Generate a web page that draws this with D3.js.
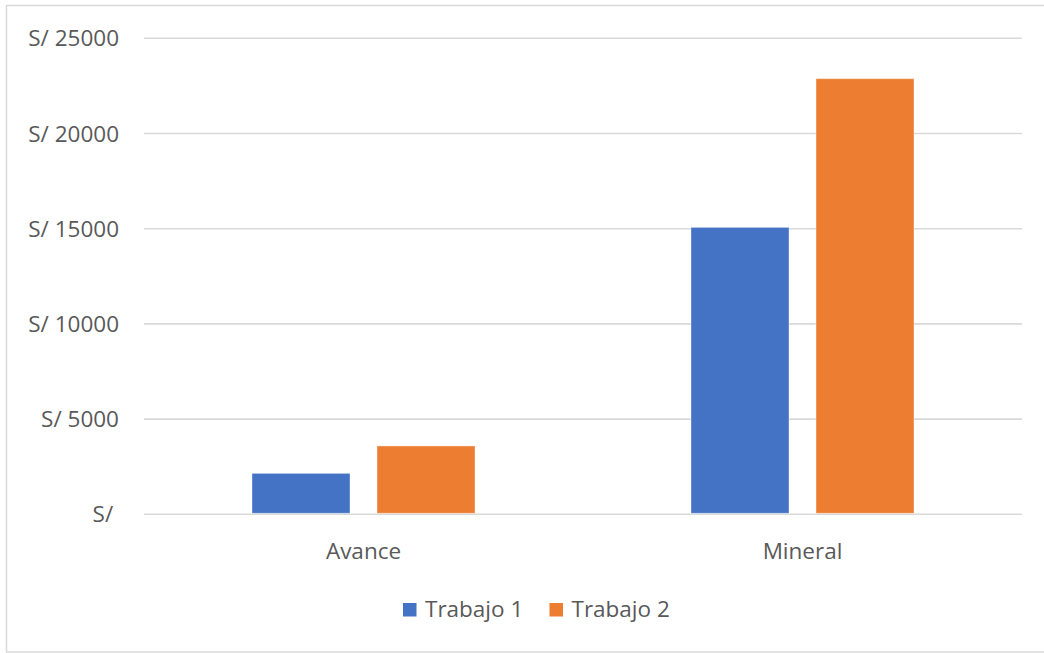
<!DOCTYPE html>
<html>
<head>
<meta charset="utf-8">
<script src="https://cdn.jsdelivr.net/npm/d3@7"></script>
<style>
  body { margin: 0; background: #fff; overflow: hidden; }
  text { font-family: "Open Sans", "Noto Sans", sans-serif; fill: #595959; }
</style>
</head>
<body>
<div id="chart"></div>
<script>
// Data
const categories = ["Avance", "Mineral"];
const seriesNames = ["Trabajo 1", "Trabajo 2"];
const trabajo1 = [2150, 15070];
const trabajo2 = [3590, 22880];
const yTicks = [0, 5000, 10000, 15000, 20000, 25000];
const yTickLabels = ["S/ ", "S/ 5000", "S/ 10000", "S/ 15000", "S/ 20000", "S/ 25000"];
const colors = ["#4472C4", "#ED7D31"];

const width = 1044, height = 653;
const padding = {top: 38.3, right: 22, bottom: 138.7, left: 144};

const svg = d3.select("#chart").append("svg")
    .attr("width", width)
    .attr("height", height)
    .style("display", "block");

// Chart frame (right edge runs off the picture)
svg.append("rect")
    .attr("x", 6.5).attr("y", 5.5)
    .attr("width", width - 4).attr("height", 646.5)
    .attr("fill", "none")
    .attr("stroke", "#d9d9d9")
    .attr("stroke-width", 1.5);

// Scales
const xScale = d3.scaleBand()
    .domain(categories)
    .range([padding.left, width - padding.right])
    .padding(0);

const innerWidth = xScale.bandwidth() * 0.508;
const xInner = d3.scaleBand()
    .domain(seriesNames)
    .range([0, innerWidth])
    .paddingInner(0.216)
    .paddingOuter(0);

const yScale = d3.scaleLinear()
    .domain([0, 25000])
    .range([height - padding.bottom, padding.top]);

// Gridlines
svg.append("g")
    .selectAll("line")
    .data(yTicks)
    .enter().append("line")
    .attr("x1", padding.left)
    .attr("x2", width - padding.right)
    .attr("y1", d => yScale(d))
    .attr("y2", d => yScale(d))
    .attr("stroke", "#d9d9d9")
    .attr("stroke-width", 1.6);

// Y axis labels
svg.append("g")
    .selectAll("text")
    .data(yTicks)
    .enter().append("text")
    .attr("x", 119)
    .attr("y", d => yScale(d))
    .attr("dy", "0.36em")
    .attr("text-anchor", "end")
    .style("font-size", "22.5px")
    .style("white-space", "pre")
    .text((d, i) => yTickLabels[i]);

// Bars
const groups = svg.append("g")
    .selectAll("g")
    .data(categories)
    .enter().append("g")
    .attr("transform", d => "translate(" + (xScale(d) + (xScale.bandwidth() - innerWidth) / 2) + ",0)");

groups.selectAll("rect")
    .data((d, i) => [
        {series: seriesNames[0], value: trabajo1[i], color: colors[0]},
        {series: seriesNames[1], value: trabajo2[i], color: colors[1]}
    ])
    .enter().append("rect")
    .attr("x", d => xInner(d.series))
    .attr("y", d => yScale(d.value))
    .attr("width", xInner.bandwidth())
    .attr("height", d => yScale(0) - yScale(d.value) - 1)
    .attr("fill", d => d.color)
    .attr("stroke", "#fff")
    .attr("stroke-opacity", 0.4)
    .attr("stroke-width", 1);

// Category labels
svg.append("g")
    .selectAll("text")
    .data(categories)
    .enter().append("text")
    .attr("x", d => xScale(d) + xScale.bandwidth() / 2)
    .attr("y", 559)
    .attr("text-anchor", "middle")
    .style("font-size", "22.5px")
    .text(d => d);

// Legend
const legendX = [403, 549.5];
const legend = svg.append("g")
    .selectAll("g")
    .data(seriesNames)
    .enter().append("g")
    .attr("transform", (d, i) => "translate(" + legendX[i] + ",603)");

legend.append("rect")
    .attr("width", 13.5)
    .attr("height", 13.5)
    .attr("fill", (d, i) => colors[i]);

legend.append("text")
    .attr("x", 22)
    .attr("y", 14)
    .style("font-size", "22.5px")
    .text(d => d);
</script>
</body>
</html>
